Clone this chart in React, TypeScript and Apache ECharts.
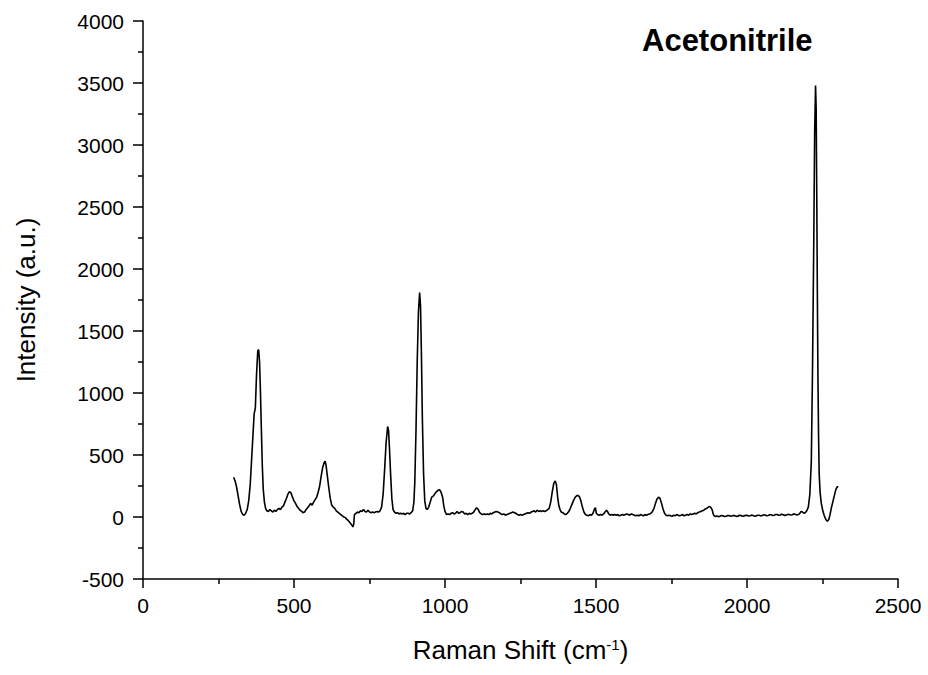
import React, { useEffect, useRef } from "react";
import * as echarts from "echarts";

const ramanShift = [
  300, 305, 310, 315, 320, 325, 330, 335, 340, 345, 350, 355, 360, 365, 368, 372, 376, 380, 383, 386, 389, 392, 395, 398,
  402, 406, 410, 415, 420, 425, 430, 435, 440, 445, 450, 455, 460, 465, 470, 475, 480, 485, 490, 495, 500, 505, 510, 515,
  520, 525, 530, 535, 540, 545, 550, 555, 560, 565, 570, 575, 580, 585, 590, 595, 600, 603, 606, 610, 615, 620, 625, 630,
  635, 640, 645, 650, 655, 660, 665, 670, 675, 680, 685, 690, 695, 698, 700, 705, 710, 715, 720, 725, 730, 735, 740, 745,
  750, 755, 760, 765, 770, 775, 780, 785, 790, 795, 800, 805, 810, 813, 816, 820, 824, 828, 833, 838, 843, 848, 853, 858,
  863, 868, 873, 878, 883, 888, 893, 897, 900, 904, 908, 912, 916, 919, 922, 925, 929, 933, 937, 941, 946, 951, 956, 962,
  967, 972, 977, 982, 987, 992, 996, 1000, 1005, 1010, 1015, 1020, 1025, 1030, 1035, 1040, 1045, 1050, 1055, 1060, 1065,
  1070, 1075, 1080, 1085, 1090, 1095, 1100, 1105, 1110, 1115, 1120, 1125, 1130, 1135, 1140, 1145, 1150, 1155, 1160, 1165,
  1170, 1175, 1180, 1185, 1190, 1195, 1200, 1205, 1210, 1215, 1220, 1225, 1230, 1235, 1240, 1245, 1250, 1255, 1260, 1265,
  1270, 1275, 1280, 1285, 1290, 1295, 1300, 1305, 1310, 1315, 1320, 1325, 1330, 1335, 1340, 1345, 1350, 1355, 1360, 1365,
  1369, 1373, 1377, 1381, 1385, 1390, 1395, 1400, 1405, 1410, 1415, 1420, 1425, 1430, 1435, 1440, 1445, 1450, 1455, 1460,
  1465, 1470, 1475, 1480, 1485, 1490, 1495, 1498, 1501, 1505, 1510, 1515, 1520, 1525, 1530, 1535, 1538, 1542, 1547, 1552,
  1557, 1562, 1567, 1572, 1577, 1582, 1587, 1592, 1597, 1602, 1607, 1612, 1617, 1622, 1627, 1632, 1637, 1642, 1647, 1652,
  1657, 1662, 1667, 1672, 1677, 1682, 1687, 1692, 1697, 1702, 1707, 1712, 1717, 1722, 1727, 1732, 1737, 1742, 1747, 1752,
  1757, 1762, 1767, 1772, 1777, 1782, 1787, 1792, 1797, 1802, 1807, 1812, 1817, 1822, 1827, 1832, 1837, 1842, 1847, 1852,
  1857, 1862, 1867, 1872, 1877, 1881, 1885, 1888, 1891, 1895, 1900, 1905, 1910, 1915, 1920, 1925, 1930, 1935, 1940, 1945,
  1950, 1955, 1960, 1965, 1970, 1975, 1980, 1985, 1990, 1995, 2000, 2005, 2010, 2015, 2020, 2025, 2030, 2035, 2040, 2045,
  2050, 2055, 2060, 2065, 2070, 2075, 2080, 2085, 2090, 2095, 2100, 2105, 2110, 2115, 2120, 2125, 2130, 2135, 2140, 2145,
  2150, 2155, 2160, 2165, 2170, 2175, 2179, 2184, 2188, 2193, 2198, 2203, 2208, 2213, 2217, 2221, 2224, 2227, 2229, 2231,
  2233, 2235, 2237, 2239, 2242, 2246, 2251, 2256, 2261, 2266, 2271, 2275, 2279, 2284, 2289, 2294, 2299, 2302,
];

const intensity = [
  320, 290, 240, 170, 100, 45, 20, 15, 30, 60, 130, 260, 480, 700, 830, 880, 1150, 1340, 1350, 1250, 1000, 700, 420, 230,
  120, 70, 50, 45, 60, 50, 40, 55, 45, 60, 70, 60, 80, 90, 120, 150, 185, 205, 195, 160, 130, 110, 85, 70,
  55, 45, 35, 40, 60, 75, 90, 110, 95, 120, 140, 160, 200, 250, 330, 400, 440, 450, 420, 340, 240, 150, 95, 80,
  70, 50, 40, 30, 20, 10, 0, -5, -20, -30, -45, -60, -80, -55, 20, 30, 40, 35, 50, 45, 60, 45, 40, 55,
  40, 35, 40, 35, 40, 45, 40, 50, 80, 180, 380, 600, 730, 700, 560, 340, 150, 60, 40, 30, 35, 25, 30, 25,
  30, 20, 30, 30, 25, 35, 50, 120, 280, 700, 1250, 1650, 1810, 1700, 1300, 800, 350, 130, 70, 60, 80, 120, 160, 170,
  190, 205, 215, 220, 200, 160, 90, 45, 20, 25, 20, 30, 35, 25, 30, 45, 30, 35, 45, 40, 25,
  30, 20, 30, 25, 30, 40, 60, 75, 60, 35, 25, 20, 25, 20, 25, 20, 30, 25, 35, 40,
  45, 40, 35, 25, 20, 25, 15, 20, 25, 30, 35, 40, 35, 30, 20, 15, 20, 15, 20, 25,
  30, 35, 30, 40, 45, 50, 40, 55, 45, 50, 45, 50, 45, 50, 60, 70, 120, 200, 270, 290,
  260, 160, 90, 60, 40, 35, 25, 20, 30, 45, 70, 100, 130, 155, 170, 175, 165, 130, 80, 40,
  20, 15, 10, 20, 15, 30, 65, 75, 30, 20, 15, 20, 15, 25, 40, 55, 45, 25, 15, 20,
  15, 20, 15, 20, 10, 15, 20, 15, 20, 25, 20, 15, 25, 20, 15, 10, 15, 10, 20, 15,
  10, 20, 15, 20, 25, 30, 45, 70, 110, 145, 160, 150, 110, 65, 30, 15, 10, 15, 10, 5,
  15, 10, 20, 15, 10, 15, 20, 10, 15, 20, 15, 25, 20, 25, 30, 25, 35, 40, 45, 50,
  55, 65, 70, 80, 85, 75, 55, 25, 10, 5, 8, 3, 5, 12, 10, 4, 6, 11, 12, 7,
  8, 13, 10, 5, 6, 14, 12, 6, 9, 13, 14, 8, 10, 15, 12, 7, 8, 14, 14, 9,
  12, 17, 16, 10, 12, 18, 18, 12, 14, 20, 20, 14, 16, 22, 18, 13, 15, 21, 20, 16,
  18, 24, 22, 17, 20, 30, 45, 40, 30, 35, 50, 80, 180, 450, 1200, 2200, 3100, 3480, 3300, 2600,
  1800, 1100, 650, 350, 200, 110, 50, 10, -20, -35, -20, 20, 70, 120, 170, 220, 245, 240,
];

const xTicks = [0, 500, 1000, 1500, 2000, 2500];
const yTicks = [-500, 0, 500, 1000, 1500, 2000, 2500, 3000, 3500, 4000];
const chartTitle = "Acetonitrile";

export default function App() {
  const ref = useRef<HTMLDivElement>(null);
  useEffect(() => {
    if (!ref.current) return;
    const chart = echarts.init(ref.current, null, { renderer: "svg" });
    const data = ramanShift.map((x, i) => [x, intensity[i]]);
    const font = "'Liberation Sans', Arial, sans-serif";
    chart.setOption({
      animation: false,
      backgroundColor: "#ffffff",
      title: {
        text: chartTitle,
        left: 642,
        top: 25,
        padding: 0,
        textStyle: { fontFamily: font, fontWeight: "bold", fontSize: 31, color: "#000" },
      },
      grid: { left: 143, right: 30, top: 21, bottom: 96 },
      xAxis: {
        type: "value",
        min: xTicks[0],
        max: xTicks[xTicks.length - 1],
        interval: 500,
        name: "Raman Shift (cm{sup|-1})",
        nameLocation: "middle",
        nameGap: 58,
        nameTextStyle: {
          fontFamily: font,
          fontSize: 26,
          color: "#000",
          rich: { sup: { fontFamily: font, fontSize: 15, color: "#000", verticalAlign: "top", padding: [0, 0, 11, 0] } },
        },
        axisLine: { onZero: false, lineStyle: { color: "#000", width: 1.5 } },
        axisTick: { show: true, inside: false, length: 9, lineStyle: { color: "#000", width: 1.5 } },
        minorTick: { show: true, splitNumber: 2, length: 5, lineStyle: { color: "#000", width: 1.5 } },
        splitLine: { show: false },
        axisLabel: { fontFamily: font, fontSize: 21, color: "#000", margin: 16, formatter: (v: number) => String(v) },
      },
      yAxis: {
        type: "value",
        min: yTicks[0],
        max: yTicks[yTicks.length - 1],
        interval: 500,
        name: "Intensity (a.u.)",
        nameLocation: "middle",
        nameGap: 104,
        nameTextStyle: { fontFamily: font, fontSize: 26, color: "#000" },
        axisLine: { show: true, onZero: false, lineStyle: { color: "#000", width: 1.5 } },
        axisTick: { show: true, inside: false, length: 10, lineStyle: { color: "#000", width: 1.5 } },
        minorTick: { show: true, splitNumber: 2, length: 5, lineStyle: { color: "#000", width: 1.5 } },
        splitLine: { show: false },
        axisLabel: { fontFamily: font, fontSize: 21, color: "#000", margin: 19, formatter: (v: number) => String(v) },
      },
      series: [
        {
          type: "line",
          data,
          showSymbol: false,
          symbol: "none",
          lineStyle: { color: "#000", width: 1.6 },
        },
      ],
    });
    return () => chart.dispose();
  }, []);
  return <div ref={ref} style={{ width: 928, height: 675, position: "absolute", left: 0, top: 0 }} />;
}
